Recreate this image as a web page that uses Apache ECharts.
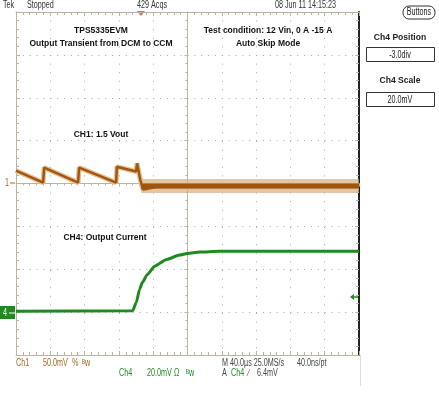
<!DOCTYPE html>
<html>
<head>
<meta charset="UTF-8">
<title>TPS5335EVM transient</title>
<script src="https://cdn.jsdelivr.net/npm/echarts@6/dist/echarts.min.js"></script>
<style>
  body { margin: 0; padding: 0; background: #fff; }
  #chart { width: 439px; height: 398px; }
</style>
</head>
<body>
<div id="chart"></div>
<script>
// time in divisions from screen centre (40 us/div), amplitude in divisions
const ch1Time = [-5, -4.21, -4.18, -3.19, -3.16, -2.08, -2.06, -1.5, -1.47, -1.38, -1.3, -1.15, -0.9, 5];
const ch1Vals = [0.30, 0.02, 0.37, 0.02, 0.37, 0.02, 0.39, 0.28, 0.47, 0.10, -0.14, -0.12, -0.08, -0.08];
const ch1NoiseTime = [-1.35, 5];
const ch1NoiseVals = [-0.06, -0.06];
const ch4Time = [-5, -1.60, -1.49, -1.40, -1.31, -1.17, -0.96, -0.61, -0.23, 0, 0.35, 0.93, 5];
const ch4Vals = [-2.98, -2.97, -2.77, -2.47, -2.30, -2.12, -1.93, -1.77, -1.67, -1.63, -1.60, -1.58, -1.58];

const zip = (a, b) => a.map((t, i) => [t, b[i]]);

const chart = echarts.init(document.getElementById('chart'));

const tan = '#bcb49c';
const dots = '#a8a8a8';
const hdrFont = '10px Arial, "Liberation Sans", sans-serif';
const boldFont = 'bold 8.5px Arial, "Liberation Sans", sans-serif';
const brown = '#9a6a22';
const green = '#1f8a1f';

function edgeX(pos, extra) {
    return Object.assign({
        type: 'value', min: -5, max: 5, interval: 1, position: pos,
        axisLine: { onZero: false, lineStyle: { color: tan } },
        axisTick: { inside: true, length: 4, lineStyle: { color: tan } },
        minorTick: { show: true, splitNumber: 5, length: 3, lineStyle: { color: tan } },
        axisLabel: { show: false }, splitLine: { show: false }
    }, extra || {});
}
function edgeY(pos, extra) {
    return Object.assign({
        type: 'value', min: -4, max: 4, interval: 1, position: pos,
        axisLine: { onZero: false, lineStyle: { color: tan } },
        axisTick: { inside: true, length: 4, lineStyle: { color: tan } },
        minorTick: { show: true, splitNumber: 5, length: 3, lineStyle: { color: tan } },
        axisLabel: { show: false }, splitLine: { show: false }
    }, extra || {});
}

// narrow scope-style text (condensed horizontally)
function txt(x, y, text, fill, font, align, sx) {
    return { type: 'text', x: x, y: y, silent: true, scaleX: sx || 0.72,
        style: { text: text, fill: fill, font: font, align: align || 'left', verticalAlign: 'middle' } };
}
function btxt(x, y, text, align) {
    return txt(x, y, text, '#111', boldFont, align, 1);
}

const option = {
    animation: false,
    backgroundColor: '#fff',
    grid: { left: 16, top: 12, width: 343, height: 343 },
    xAxis: [
        // centre line with ticks
        {
            type: 'value', min: -5, max: 5, interval: 1,
            axisLine: { onZero: true, lineStyle: { color: tan } },
            axisTick: { length: 3, lineStyle: { color: tan } },
            minorTick: { show: true, splitNumber: 5, length: 2, lineStyle: { color: tan } },
            axisLabel: { show: false },
            splitLine: { show: true, lineStyle: { color: dots, type: [1, 7.6] } }
        },
        edgeX('bottom'),
        edgeX('top')
    ],
    yAxis: [
        {
            type: 'value', min: -4, max: 4, interval: 1,
            axisLine: { onZero: true, lineStyle: { color: tan } },
            axisTick: { length: 3, lineStyle: { color: tan } },
            minorTick: { show: true, splitNumber: 5, length: 2, lineStyle: { color: tan } },
            axisLabel: { show: false },
            splitLine: { show: true, lineStyle: { color: dots, type: [1, 5.86] } }
        },
        edgeY('left'),
        edgeY('right', { axisLine: { onZero: false, lineStyle: { color: '#222', width: 2 } } })
    ],
    series: [
        { type: 'line', data: zip(ch1NoiseTime, ch1NoiseVals), showSymbol: false, silent: true,
          lineStyle: { color: 'rgba(212,176,125,0.7)', width: 14 } },
        { type: 'line', data: zip(ch1Time, ch1Vals), showSymbol: false, silent: true,
          lineStyle: { color: '#e2c49a', width: 5 } },
        { type: 'line', data: zip(ch1Time, ch1Vals), showSymbol: false, silent: true,
          lineStyle: { color: '#a4560c', width: 2.5 } },
        { type: 'line', data: zip(ch1NoiseTime, ch1NoiseVals), showSymbol: false, silent: true,
          lineStyle: { color: '#a0540c', width: 5 } },
        { type: 'line', data: zip(ch4Time, ch4Vals), showSymbol: false, silent: true,
          smooth: 0.2, smoothMonotone: 'x',
          lineStyle: { color: green, width: 3 } }
    ],
    graphic: [
        // header
        txt(3, 5, 'Tek', '#333', hdrFont),
        txt(27, 5, 'Stopped', '#333', hdrFont),
        txt(137, 5, '429 Acqs', '#333', hdrFont),
        txt(275, 5, '08 Jun 11 14:15:23', '#333', hdrFont),
        { type: 'polygon', silent: true, shape: { points: [[137, 11], [145, 11], [141, 16]] }, style: { fill: '#f07020' } },
        // annotations
        btxt(101, 31, 'TPS5335EVM', 'center'),
        btxt(101, 44, 'Output Transient from DCM to CCM', 'center'),
        btxt(268, 31, 'Test condition: 12 Vin, 0 A -15 A', 'center'),
        btxt(268, 44, 'Auto Skip Mode', 'center'),
        btxt(101, 135, 'CH1: 1.5 Vout', 'center'),
        btxt(105, 238, 'CH4: Output Current', 'center'),
        // channel markers
        txt(7, 183, '1', brown, hdrFont, 'center'),
        { type: 'polyline', silent: true, shape: { points: [[10, 183], [15, 183]] }, style: { stroke: brown, lineWidth: 1 } },
        { type: 'rect', silent: true, shape: { x: 0, y: 306, width: 15, height: 13 }, style: { fill: green } },
        txt(5, 313, '4', '#fff', hdrFont, 'center'),
        { type: 'polyline', silent: true, shape: { points: [[9, 313], [15, 313]] }, style: { stroke: '#fff', lineWidth: 1 } },
        { type: 'polyline', silent: true, shape: { points: [[351, 297], [358, 297]] }, style: { stroke: green, lineWidth: 1.5 } },
        { type: 'polygon', silent: true, shape: { points: [[350, 297], [354, 294], [354, 300]] }, style: { fill: green } },
        // right frame tail
        { type: 'line', silent: true, shape: { x1: 360.5, y1: 355, x2: 360.5, y2: 386 }, style: { stroke: '#ddd', lineWidth: 1 } },
        // footer
        txt(16, 363, 'Ch1', brown, hdrFont),
        txt(43, 363, '50.0mV', brown, hdrFont),
        txt(72, 363, '%', brown, hdrFont),
        txt(82, 363, '\u1d2ew', brown, hdrFont),
        txt(119, 373, 'Ch4', green, hdrFont),
        txt(147, 373, '20.0mV', green, hdrFont),
        txt(174, 373, '\u03a9', green, hdrFont),
        txt(186, 373, '\u1d2ew', green, hdrFont),
        txt(222, 363, 'M 40.0\u00b5s 25.0MS/s', '#444', hdrFont),
        txt(297, 363, '40.0ns/pt', '#444', hdrFont),
        txt(222, 373, 'A', '#444', hdrFont),
        txt(231, 373, 'Ch4', green, hdrFont),
        txt(248, 373, '\u2215', '#444', hdrFont),
        txt(257, 373, '6.4mV', '#444', hdrFont),
        // side panel
        { type: 'rect', silent: true, shape: { x: 403, y: 6, width: 32, height: 13, r: 6 }, style: { fill: '#fff', stroke: '#333', lineWidth: 1 } },
        txt(419, 12.5, 'Buttons', '#222', hdrFont, 'center'),
        txt(400, 37, 'Ch4 Position', '#222', 'bold 9.5px Arial, sans-serif', 'center', 0.9),
        { type: 'rect', silent: true, shape: { x: 366.5, y: 47.5, width: 68, height: 14 }, style: { fill: '#fff', stroke: '#333', lineWidth: 1 } },
        txt(400, 55, '-3.0div', '#222', hdrFont, 'center'),
        txt(400, 80, 'Ch4 Scale', '#222', 'bold 9.5px Arial, sans-serif', 'center', 0.9),
        { type: 'rect', silent: true, shape: { x: 366.5, y: 92.5, width: 68, height: 14 }, style: { fill: '#fff', stroke: '#333', lineWidth: 1 } },
        txt(400, 100, '20.0mV', '#222', hdrFont, 'center')
    ]
};

chart.setOption(option);
</script>
</body>
</html>
